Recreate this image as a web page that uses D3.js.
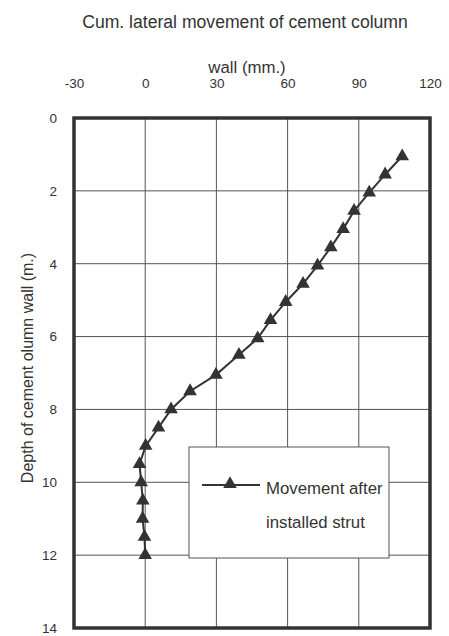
<!DOCTYPE html>
<html>
<head>
<meta charset="utf-8">
<script src="https://cdn.jsdelivr.net/npm/d3@7"></script>
<style>
  body { margin: 0; background: #fff; }
  svg { display: block; font-family: "Liberation Sans", Arial, sans-serif; }
</style>
</head>
<body>
<svg id="chart" width="449" height="636"></svg>
<script>
// depth (m.) and cumulative lateral movement (mm.)
var depths = [1.05, 1.55, 2.05, 2.55, 3.05, 3.55, 4.05, 4.55, 5.05, 5.55, 6.05, 6.5, 7.05, 7.5, 8.0, 8.5, 9.0, 9.5, 10.0, 10.5, 11.0, 11.5, 12.0];
var movement = [108.3, 101.1, 94.4, 88.0, 83.4, 78.2, 72.6, 66.5, 59.2, 52.8, 47.4, 39.5, 29.8, 18.9, 10.9, 5.6, 0.2, -2.4, -1.7, -1.0, -1.1, -0.3, 0.0];
var xTicks = [-30, 0, 30, 60, 90, 120];
var yTicks = [0, 2, 4, 6, 8, 10, 12, 14];
var seriesName = ["Movement after", "installed strut"];

var svg = d3.select("#chart");
var pL = 74, pR = 430, pT = 118, pB = 628;
var ink = "#333";
var fs = 16.8;

var x = d3.scaleLinear().domain([-30, 120]).range([pL, pR]);
var y = d3.scaleLinear().domain([0, 14]).range([pT, pB]);

// titles
svg.append("text").attr("x", 245).attr("y", 28).attr("text-anchor", "middle")
  .attr("font-size", 17.6).attr("fill", ink).text("Cum. lateral movement of cement column");
svg.append("text").attr("x", 247).attr("y", 73).attr("text-anchor", "middle")
  .attr("font-size", fs).attr("fill", ink).text("wall (mm.)");

// gridlines
var grid = svg.append("g").attr("stroke", "#555").attr("stroke-width", 1);
grid.selectAll(".vx").data(xTicks.slice(1, -1)).enter().append("line")
  .attr("x1", function (d) { return x(d); }).attr("x2", function (d) { return x(d); })
  .attr("y1", pT).attr("y2", pB);
grid.selectAll(".hy").data(yTicks.slice(1, -1)).enter().append("line")
  .attr("x1", pL).attr("x2", pR)
  .attr("y1", function (d) { return y(d); }).attr("y2", function (d) { return y(d); });

// top axis labels (no tick marks)
var xAxis = d3.axisTop(x).tickValues(xTicks).tickFormat(String).tickSize(0).tickPadding(0);
var gx = svg.append("g").attr("transform", "translate(0,88)").call(xAxis);
gx.select(".domain").remove();
gx.selectAll("text").attr("font-size", 13.5).attr("fill", ink).attr("dy", 0)
  .attr("font-family", "Liberation Sans, Arial, sans-serif");

var yAxis = d3.axisLeft(y).tickValues(yTicks).tickFormat(String).tickSize(0).tickPadding(0);
var gy = svg.append("g").attr("transform", "translate(57,0)").call(yAxis);
gy.select(".domain").remove();
gy.selectAll("text").attr("font-size", 13.5).attr("fill", ink)
  .attr("font-family", "Liberation Sans, Arial, sans-serif");

svg.append("text")
  .attr("transform", "translate(33," + ((pT + pB) / 2 - 5) + ") rotate(-90)")
  .attr("text-anchor", "middle").attr("font-size", 16).attr("fill", ink)
  .text("Depth of cement olumn wall (m.)");

// legend box (covers the grid)
var lg = svg.append("g");
lg.append("rect").attr("x", 189).attr("y", 447).attr("width", 200).attr("height", 111)
  .attr("fill", "#fff").attr("stroke", "#555").attr("stroke-width", 1);

// series
var pts = depths.map(function (d, i) { return [movement[i], d]; });
var line = d3.line().x(function (d) { return x(d[0]); }).y(function (d) { return y(d[1]); });
svg.append("path").datum(pts).attr("d", line)
  .attr("fill", "none").attr("stroke", ink).attr("stroke-width", 2);

var tri = d3.symbol().type(d3.symbolTriangle).size(80);
svg.selectAll(".mk").data(pts).enter().append("path")
  .attr("d", tri).attr("fill", ink)
  .attr("transform", function (d) { return "translate(" + x(d[0]) + "," + y(d[1]) + ")"; });

// legend content
lg.append("line").attr("x1", 202).attr("x2", 260).attr("y1", 485).attr("y2", 485)
  .attr("stroke", ink).attr("stroke-width", 2);
lg.append("path").attr("d", tri).attr("fill", ink).attr("transform", "translate(230,484)");
lg.selectAll(".lt").data(seriesName).enter().append("text")
  .attr("x", 266).attr("y", function (d, i) { return 494 + i * 34; })
  .attr("font-size", fs).attr("fill", ink).text(function (d) { return d; });

// frame
svg.append("rect").attr("x", pL).attr("y", pT).attr("width", pR - pL).attr("height", pB - pT)
  .attr("fill", "none").attr("stroke", ink).attr("stroke-width", 3.5);
</script>
</body>
</html>
